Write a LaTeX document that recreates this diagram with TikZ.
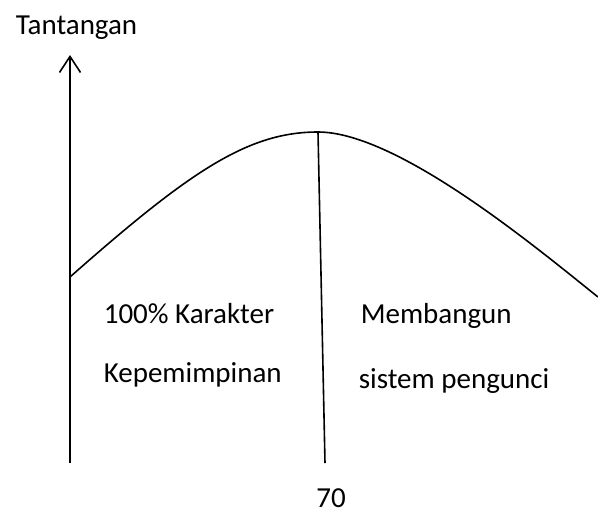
\documentclass[tikz,border=0pt]{standalone}
\usepackage{fontspec}
\setmainfont{Carlito}
\usetikzlibrary{arrows.meta}
\definecolor{ink}{HTML}{000000}

\begin{document}
\begin{tikzpicture}[x=1pt,y=-1pt,font=\fontsize{29}{35}\selectfont,text=ink,
  line width=1.6pt,>={Straight Barb[length=16pt,width=21pt]}]
  \useasboundingbox (0,0) rectangle (598,515);
  \coordinate (axisbot) at (70,463);
  \coordinate (axistop) at (70,55);
  \coordinate (start) at (70,277);
  \coordinate (peak) at (318,132);
  \coordinate (finish) at (598,297);
  \coordinate (base) at (325,463);
  \draw[->,ink] (axisbot)--(axistop);
  \draw[ink] (start) .. controls (190,171) and (248,132) .. (peak)
    .. controls (398,132) and (538,249) .. (finish);
  \draw[ink] (peak)--(base);
  \node[anchor=base west,inner sep=0] (ylab) at (15,34) {Tantangan};
  \node[anchor=base west,inner sep=0] (lefta) at (103,323) {100\% Karakter};
  \node[anchor=base west,inner sep=0] (leftb) at (103,382) {Kepemimpinan};
  \node[anchor=base west,inner sep=0] (righta) at (360,323) {Membangun};
  \node[anchor=base west,inner sep=0] (rightb) at (358,388) {sistem pengunci};
  \node[anchor=base,inner sep=0] (xval) at (331,507) {70};
\end{tikzpicture}
\end{document}
